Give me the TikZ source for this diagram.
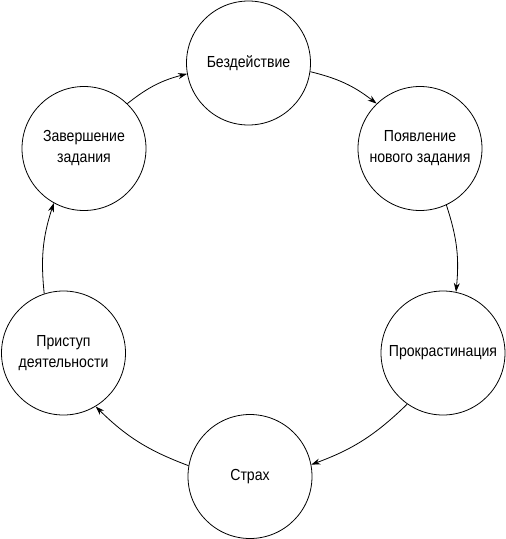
\documentclass[tikz,border=0pt]{standalone}
\usepackage{fontspec}
\setmainfont{Liberation Sans}[FakeStretch=0.88]
\usetikzlibrary{arrows.meta}
\begin{document}
\begin{tikzpicture}[x=1pt,y=-1pt,
  stage/.style={circle,draw,line width=0.8pt,minimum size=124pt,inner sep=0pt,align=center,font=\fontsize{16}{21}\selectfont},
  flow/.style={line width=0.8pt,-{Stealth[length=9pt,width=6pt]}}]
\useasboundingbox (0,0) rectangle (506,539);
\node[stage] (bez) at (248.5,63) {Бездействие};
\node[stage] (poy) at (420,148.5) {Появление\\нового задания};
\node[stage] (pro) at (443,353) {Прокрастинация};
\node[stage] (str) at (250,476.5) {Страх};
\node[stage] (pri) at (63.5,353) {Приступ\\деятельности};
\node[stage] (zav) at (84,148.5) {Завершение\\задания};
\draw[flow] (zav.46) to[bend left=12] (bez.190);
\draw[flow] (bez.-8) to[bend left=12] (poy.134);
\draw[flow] (poy.-65) to[bend left=12] (pro.78);
\draw[flow] (pro.235) to[bend left=12] (str.11);
\draw[flow] (str.170) to[bend left=12] (pri.-59);
\draw[flow] (pri.108) to[bend left=12] (zav.241);
\end{tikzpicture}
\end{document}
